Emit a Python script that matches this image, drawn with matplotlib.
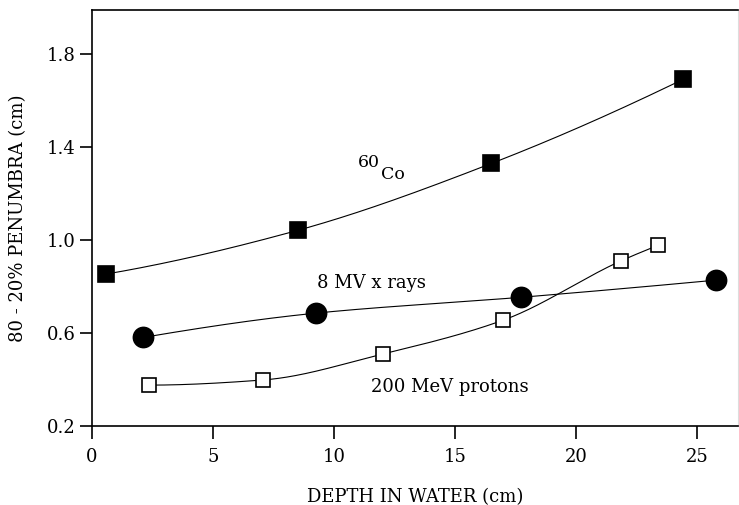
import numpy as np
import matplotlib
matplotlib.use("Agg")
import matplotlib.pyplot as plt

# Penumbra (80-20%) versus depth in water
co60_depth = [0.58, 8.53, 16.5, 24.42]
co60_pen = [0.854, 1.043, 1.33, 1.692]

xray_depth = [2.1, 9.27, 17.72, 25.8]
xray_pen = [0.581, 0.686, 0.754, 0.828]

proton_depth = [2.35, 7.05, 12.02, 17.0, 21.86, 23.4]
proton_pen = [0.376, 0.398, 0.51, 0.656, 0.911, 0.978]

x_ticks = [0, 5, 10, 15, 20, 25]
y_ticks = [0.2, 0.6, 1.0, 1.4, 1.8]


def pchip(x, y, xs):
    """Shape-preserving cubic through the measured points."""
    x = np.asarray(x, float)
    y = np.asarray(y, float)
    h = np.diff(x)
    d = np.diff(y) / h
    n = len(x)
    m = np.zeros(n)
    for k in range(1, n - 1):
        if d[k - 1] * d[k] > 0:
            w1 = 2 * h[k] + h[k - 1]
            w2 = h[k] + 2 * h[k - 1]
            m[k] = (w1 + w2) / (w1 / d[k - 1] + w2 / d[k])
    m[0] = ((2 * h[0] + h[1]) * d[0] - h[0] * d[1]) / (h[0] + h[1]) if n > 2 else d[0]
    if np.sign(m[0]) != np.sign(d[0]):
        m[0] = 0
    m[-1] = ((2 * h[-1] + h[-2]) * d[-1] - h[-1] * d[-2]) / (h[-1] + h[-2]) if n > 2 else d[-1]
    if np.sign(m[-1]) != np.sign(d[-1]):
        m[-1] = 0
    idx = np.clip(np.searchsorted(x, xs) - 1, 0, n - 2)
    t = (xs - x[idx]) / h[idx]
    h00 = 2 * t**3 - 3 * t**2 + 1
    h10 = t**3 - 2 * t**2 + t
    h01 = -2 * t**3 + 3 * t**2
    h11 = t**3 - t**2
    return h00 * y[idx] + h10 * h[idx] * m[idx] + h01 * y[idx + 1] + h11 * h[idx] * m[idx + 1]


plt.rcParams['font.family'] = 'DejaVu Serif'
fig = plt.figure(figsize=(7.39, 5.05), dpi=100)
ax = fig.add_axes([0.1245, 0.1564, 0.8745, 0.8236])

series = [
    (co60_depth, co60_pen, 's', 'black', 11),
    (xray_depth, xray_pen, 'o', 'black', 14.5),
    (proton_depth, proton_pen, 's', 'white', 10.5),
]
for xs, ys, mk, face, ms in series:
    xx = np.linspace(xs[0], xs[-1], 300)
    ax.plot(xx, pchip(xs, ys, xx), color='black', linewidth=0.8, zorder=2)
    ax.plot(xs, ys, linestyle='none', marker=mk, markersize=ms,
            markerfacecolor=face, markeredgecolor='black', markeredgewidth=1.2, zorder=3)

ax.text(10.97, 1.333, '60', fontsize=12.5, va='center', ha='left')
ax.text(11.95, 1.284, 'Co', fontsize=12.5, va='center', ha='left')
ax.text(9.3, 0.814, '8 MV x rays', fontsize=13, va='center', ha='left')
ax.text(11.54, 0.369, '200 MeV protons', fontsize=13, va='center', ha='left')

ax.set_xlim(0, 26.7)
ax.set_ylim(0.2, 1.99)
ax.set_xticks(x_ticks)
ax.set_yticks(y_ticks)
ax.set_yticklabels([f'{v:.1f}' for v in y_ticks])
ax.tick_params(direction='out', length=9, width=1.2, labelsize=13)
ax.tick_params(axis='x', pad=7)
ax.tick_params(axis='y', pad=3)

for side in ('left', 'bottom', 'top'):
    ax.spines[side].set_linewidth(1.2)
ax.spines['right'].set_color('#dddddd')
ax.spines['right'].set_linewidth(0.8)

ax.set_xlabel('DEPTH IN WATER (cm)', fontsize=13, labelpad=16)
ax.set_ylabel('80 - 20% PENUMBRA (cm)', fontsize=13, labelpad=14)

fig.savefig('out.png', dpi=100)
